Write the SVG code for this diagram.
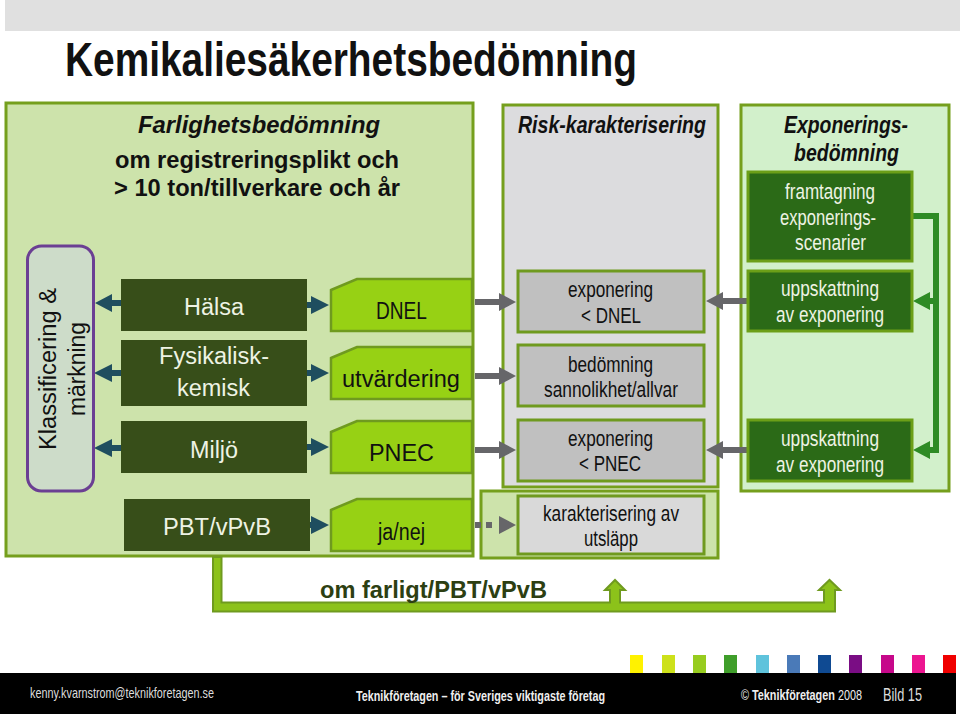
<svg xmlns="http://www.w3.org/2000/svg" width="960" height="716" viewBox="0 0 960 716">
<defs>
<style>
text{font-family:"Liberation Sans",Arial,sans-serif;font-size:23px;fill:#111;}
.b{font-weight:bold}
.bi{font-weight:bold;font-style:italic}
.h{font-size:24px}
.s{font-size:22.500px}
.w{fill:#eef3e4}
.panel{stroke:#759f1d;stroke-width:3}
.dark{fill:#374e19}
.lime{fill:#97d114;stroke:#6f9a1f;stroke-width:2.5}
.grey{fill:#c0c0c0;stroke:#6f9a1f;stroke-width:3}
.dg{fill:#2b6a17;stroke:#6c9f18;stroke-width:3}
.teal{stroke:#1f4e5f;stroke-width:6;fill:none}
.tealh{fill:#1f4e5f}
.gr{stroke:#666669;stroke-width:6;fill:none}
.grh{fill:#666669}
.gn{stroke:#2e8b25;stroke-width:6;fill:none}
.gnh{fill:#2e8b25}
</style>
</defs>
<rect width="960" height="716" fill="#fff"/>
<rect x="5" y="0" width="955" height="31" fill="#e0e0e0"/>
<text id="title" class="b" x="65" y="76" style="font-size:48px" textLength="572" lengthAdjust="spacingAndGlyphs">Kemikaliesäkerhetsbedömning</text>

<g id="panel-farlighet">
<rect class="panel" x="6" y="103" width="467" height="453" fill="#cde3ab"/>
<text class="bi h" x="138" y="133" textLength="242" lengthAdjust="spacingAndGlyphs">Farlighetsbedömning</text>
<text class="b h" x="115" y="168" textLength="284" lengthAdjust="spacingAndGlyphs">om registreringsplikt och</text>
<text class="b h" x="114" y="196" textLength="286" lengthAdjust="spacingAndGlyphs">&gt; 10 ton/tillverkare och år</text>
</g>
<g id="panel-risk">
<rect class="panel" x="503" y="105" width="215" height="382" fill="#dcdcde"/>
<text class="bi h" x="518" y="133" textLength="188" lengthAdjust="spacingAndGlyphs">Risk-karakterisering</text>
</g>
<g id="panel-utslapp">
<rect class="panel" x="481" y="491" width="237" height="67" fill="#cde3ab"/>
</g>
<g id="panel-exponering">
<rect class="panel" x="741" y="105" width="208" height="386" fill="#d2f0cb"/>
<text class="bi h" x="784" y="133" textLength="124" lengthAdjust="spacingAndGlyphs">Exponerings-</text>
<text class="bi h" x="794" y="161" textLength="105" lengthAdjust="spacingAndGlyphs">bedömning</text>
</g>

<g id="connectors">
<path class="teal" d="M121,303H108M121,373H108M121,448H108"/>
<path class="tealh" d="M95,303l17,-9v18zM94,373l18,-9v18zM94,448l18,-9v18z"/>
<path class="teal" d="M307,305H315M307,373H315M307,447H315M310,525H315"/>
<path class="tealh" d="M329,305l-18,-9v18zM329,373l-18,-9v18zM329,447l-18,-9v18zM329,525l-18,-9v18z"/>
<path class="gr" d="M475,302H502M475,376H502M475,450H502M475,525H481M486,525H492"/>
<path class="grh" d="M516,302l-17,-9v18zM516,376l-17,-9v18zM516,450l-17,-9v18zM516,525l-17,-9v18z"/>
<path class="gr" d="M748,301H720M748,450H720"/>
<path class="grh" d="M706,301l17,-9v18zM706,450l17,-9v18z"/>
<path class="gn" d="M912,216H936V450H928"/>
<path class="gn" d="M936,301H928"/>
<path class="gnh" d="M913,301l17,-9v18zM913,450l17,-9v18z"/>
<path fill="#8cc21a" stroke="#6f9a1f" stroke-width="2" d="M213,557V611.500H835V590H840L829.500,580L819,590H824V602.500H620V590H625L615,580L605,590H610V602.500H221.500V557Z"/>
</g>

<g id="node-klass">
<rect x="27.500" y="246" width="66" height="245" rx="14" fill="#cddcc9" stroke="#6b3f93" stroke-width="3"/>
<text transform="translate(56,450) rotate(-90)" x="0" y="0" textLength="162" lengthAdjust="spacingAndGlyphs">Klassificering &amp;</text>
<text transform="translate(85,416) rotate(-90)" x="0" y="0" textLength="94" lengthAdjust="spacingAndGlyphs">märkning</text>
</g>
<g id="node-halsa">
<rect class="dark" x="121" y="279" width="186" height="52"/>
<text class="w" x="184" y="315" textLength="60" lengthAdjust="spacingAndGlyphs">Hälsa</text>
</g>
<g id="node-fysikalisk">
<rect class="dark" x="121" y="340" width="186" height="66"/>
<text class="w" x="159" y="364" textLength="110" lengthAdjust="spacingAndGlyphs">Fysikalisk-</text>
<text class="w" x="177" y="396" textLength="73" lengthAdjust="spacingAndGlyphs">kemisk</text>
</g>
<g id="node-miljo">
<rect class="dark" x="121" y="421" width="186" height="52"/>
<text class="w" x="190" y="458" textLength="48" lengthAdjust="spacingAndGlyphs">Miljö</text>
</g>
<g id="node-pbt">
<rect class="dark" x="124" y="499" width="186" height="52"/>
<text class="w" x="163" y="535" textLength="108" lengthAdjust="spacingAndGlyphs">PBT/vPvB</text>
</g>
<g id="node-dnel">
<path class="lime" d="M331,290L357,279H472V331H331Z"/>
<text x="376" y="319" textLength="51" lengthAdjust="spacingAndGlyphs">DNEL</text>
</g>
<g id="node-utvardering">
<path class="lime" d="M331,358L357,347H472V399H331Z"/>
<text x="342" y="387" textLength="118" lengthAdjust="spacingAndGlyphs">utvärdering</text>
</g>
<g id="node-pnec">
<path class="lime" d="M331,432L357,421H472V473H331Z"/>
<text x="369" y="461" textLength="65" lengthAdjust="spacingAndGlyphs">PNEC</text>
</g>
<g id="node-janej">
<path class="lime" d="M331,510L357,499H472V551H331Z"/>
<text x="378" y="540" textLength="47" lengthAdjust="spacingAndGlyphs">ja/nej</text>
</g>
<g id="node-exp-dnel">
<rect class="grey" x="518" y="271" width="186" height="61"/>
<text class="s" x="568" y="297" textLength="85" lengthAdjust="spacingAndGlyphs">exponering</text>
<text class="s" x="581" y="323" textLength="60" lengthAdjust="spacingAndGlyphs">&lt; DNEL</text>
</g>
<g id="node-bedomning">
<rect class="grey" x="518" y="345" width="186" height="61"/>
<text class="s" x="568" y="372" textLength="85" lengthAdjust="spacingAndGlyphs">bedömning</text>
<text class="s" x="544" y="397" textLength="134" lengthAdjust="spacingAndGlyphs">sannolikhet/allvar</text>
</g>
<g id="node-exp-pnec">
<rect class="grey" x="518" y="420" width="186" height="61"/>
<text class="s" x="568" y="446" textLength="85" lengthAdjust="spacingAndGlyphs">exponering</text>
<text class="s" x="579" y="471" textLength="62" lengthAdjust="spacingAndGlyphs">&lt; PNEC</text>
</g>
<g id="node-utslapp">
<rect class="grey" style="fill:#d9d9d9" x="518" y="496" width="186" height="58"/>
<text class="s" x="543" y="521" textLength="136" lengthAdjust="spacingAndGlyphs">karakterisering av</text>
<text class="s" x="584" y="546" textLength="54" lengthAdjust="spacingAndGlyphs">utsläpp</text>
</g>
<g id="node-framtagning">
<rect class="dg" x="748" y="172" width="164" height="89"/>
<text class="w s" x="785" y="199" textLength="90" lengthAdjust="spacingAndGlyphs">framtagning</text>
<text class="w s" x="780" y="225" textLength="96" lengthAdjust="spacingAndGlyphs">exponerings-</text>
<text class="w s" x="795" y="250" textLength="71" lengthAdjust="spacingAndGlyphs">scenarier</text>
</g>
<g id="node-uppskattning-1">
<rect class="dg" x="748" y="271" width="164" height="60"/>
<text class="w s" x="781" y="296" textLength="98" lengthAdjust="spacingAndGlyphs">uppskattning</text>
<text class="w s" x="776" y="322" textLength="108" lengthAdjust="spacingAndGlyphs">av exponering</text>
</g>
<g id="node-uppskattning-2">
<rect class="dg" x="748" y="420" width="164" height="61"/>
<text class="w s" x="781" y="446" textLength="98" lengthAdjust="spacingAndGlyphs">uppskattning</text>
<text class="w s" x="776" y="472" textLength="108" lengthAdjust="spacingAndGlyphs">av exponering</text>
</g>
<text class="b" x="320" y="598" textLength="227" lengthAdjust="spacingAndGlyphs" style="fill:#2d3f12">om farligt/PBT/vPvB</text>

<g id="footer">
<rect x="630" y="655" width="13" height="18" fill="#fff200"/>
<rect x="662" y="655" width="13" height="18" fill="#cde11a"/>
<rect x="693" y="655" width="13" height="18" fill="#97cc1f"/>
<rect x="724" y="655" width="13" height="18" fill="#3f9e2a"/>
<rect x="756" y="655" width="13" height="18" fill="#5fc3dc"/>
<rect x="787" y="655" width="13" height="18" fill="#4a7ab8"/>
<rect x="818" y="655" width="13" height="18" fill="#0f4a92"/>
<rect x="849" y="655" width="13" height="18" fill="#7a0d84"/>
<rect x="881" y="655" width="13" height="18" fill="#c6088a"/>
<rect x="912" y="655" width="13" height="18" fill="#ec1590"/>
<rect x="943" y="655" width="13" height="18" fill="#f00000"/>
<rect x="0" y="673" width="956" height="41" fill="#000"/>
<text x="30" y="698" textLength="184" lengthAdjust="spacingAndGlyphs" style="font-size:15px;fill:#ddd">kenny.kvarnstrom@teknikforetagen.se</text>
<text class="b" x="356" y="701" textLength="249" lengthAdjust="spacingAndGlyphs" style="font-size:15px;fill:#eee">Teknikföretagen – för Sveriges viktigaste företag</text>
<text x="741" y="700" textLength="121" lengthAdjust="spacingAndGlyphs" style="font-size:15px;fill:#eee">© <tspan class="b" style="font-size:15px;fill:#eee">Teknikföretagen</tspan> 2008</text>
<text x="883" y="701" textLength="39" lengthAdjust="spacingAndGlyphs" style="font-size:19px;fill:#ddd">Bild 15</text>
</g>
</svg>
